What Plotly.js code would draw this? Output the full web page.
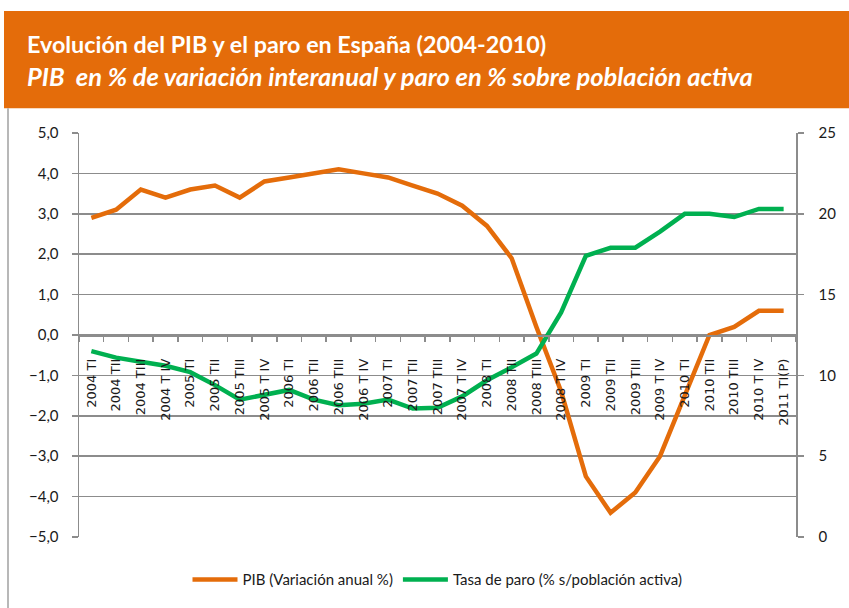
<!DOCTYPE html>
<html><head><meta charset="utf-8">
<script src="https://cdn.plot.ly/plotly-3.0.1.min.js"></script>
<style>html,body{margin:0;padding:0;background:#fff}#chart{width:849px;height:608px}</style>
</head><body><div id="chart"></div>
<script>
const categories = ["2004 TI","2004 TII","2004 TIII","2004 T IV","2005 TI","2005 TII","2005 TIII","2005 T IV","2006 TI","2006 TII","2006 TIII","2006 T IV","2007 TI","2007 TII","2007 TIII","2007 T IV","2008 TI","2008 TII","2008 TIII","2008 T IV","2009 TI","2009 TII","2009 TIII","2009 T IV","2010 TI","2010 TII","2010 TIII","2010 T IV","2011 TI(P)"];
const pib = [2.9,3.1,3.6,3.4,3.6,3.7,3.4,3.8,3.9,4.0,4.1,4.0,3.9,3.7,3.5,3.2,2.7,1.9,0.2,-1.4,-3.5,-4.4,-3.9,-3.0,-1.5,0.0,0.2,0.6,0.6];
const paro = [11.5,11.1,10.85,10.6,10.2,9.4,8.5,8.8,9.1,8.5,8.15,8.25,8.5,7.95,8.0,8.7,9.7,10.5,11.35,13.9,17.4,17.9,17.9,18.9,20.0,20.0,19.8,20.3,20.3];
const leftTicks = [-5,-4,-3,-2,-1,0,1,2,3,4,5];
const rightTicks = [0,5,10,15,20,25];
const seriesNames = ["PIB (Variación anual %)", "Tasa de paro (% s/población activa)"];
const titleText = "Evolución del PIB y el paro en España (2004-2010)";
const subtitleText = "PIB  en % de variación interanual y paro en % sobre población activa";

const W = 849, H = 608, L = 79, R = 796, T = 133, B = 540;
const px = p => (p - L) / (R - L);
const py = p => (B - p) / (B - T);
const GRID = "#8c8c8c", ORANGE = "#E46C0A", GREEN = "#00B050";

const traces = [
  {x: categories, y: pib, name: seriesNames[0], type: "scatter", mode: "lines",
   line: {color: ORANGE, width: 4.5}, yaxis: "y"},
  {x: categories, y: paro, name: seriesNames[1], type: "scatter", mode: "lines",
   line: {color: GREEN, width: 4.5}, yaxis: "y2"}
];

const layout = {
  width: W, height: H, separators: ",.",
  paper_bgcolor: "#fff", plot_bgcolor: "#fff",
  margin: {l: L, r: W - R, t: T, b: H - B, pad: 0},
  font: {family: "Lato, 'DejaVu Sans', sans-serif", color: "#1a1a1a"},
  showlegend: true,
  legend: {orientation: "h", x: 0.5, xanchor: "center", y: py(583), yanchor: "middle",
           font: {family: "Lato, sans-serif", size: 15, color: "#1a1a1a"}, itemwidth: 45,
           bgcolor: "rgba(0,0,0,0)"},
  xaxis: {type: "category", anchor: "free", position: 0.5, range: [-0.5, categories.length - 0.5],
          showline: true, linecolor: GRID, linewidth: 1.5, ticks: "outside", tickson: "boundaries",
          ticklen: 5, tickcolor: GRID, tickwidth: 1.5, tickangle: -90, showgrid: false,
          ticklabelstandoff: 17,
          tickfont: {family: "'DejaVu Sans', sans-serif", size: 13, color: "#1a1a1a"}},
  yaxis: {range: [-5, 5], tickvals: leftTicks, tickformat: ".1f", showgrid: true, gridcolor: GRID, gridwidth: 1.5,
          zeroline: false, showline: true, linecolor: GRID, linewidth: 1.5, ticks: "outside", ticklen: 6,
          tickcolor: GRID, tickwidth: 1.5, ticklabelstandoff: 10,
          tickfont: {family: "Lato, sans-serif", size: 15, color: "#1a1a1a"}},
  yaxis2: {range: [0, 25], tickvals: rightTicks, overlaying: "y", side: "right", showgrid: false,
           zeroline: false, showline: true, linecolor: GRID, linewidth: 1.5, ticks: "outside", ticklen: 6,
           tickcolor: GRID, tickwidth: 1.5, ticklabelstandoff: 12,
           tickfont: {family: "Lato, sans-serif", size: 15, color: "#1a1a1a"}},
  shapes: [
    {type: "rect", xref: "paper", yref: "paper", x0: px(4), x1: px(W + 5), y0: py(108), y1: py(10),
     fillcolor: ORANGE, line: {width: 0}, layer: "below"},
    {type: "line", xref: "paper", yref: "paper", x0: px(8), x1: px(8), y0: py(108), y1: py(H + 5),
     line: {color: "#a0a0a0", width: 1.5}}
  ],
  title: {text: "<b>" + titleText + "</b>", x: 27 / W, xanchor: "left", xref: "container",
          y: 1 - 45 / H, yanchor: "middle", yref: "container",
          font: {family: "Lato, sans-serif", size: 23.3, color: "#ffffff"}},
  annotations: [
    {text: "<b><i>" + subtitleText + "</i></b>", xref: "paper", yref: "paper", x: px(25), y: py(76),
     xanchor: "left", yanchor: "middle", showarrow: false,
     font: {family: "Lato, sans-serif", size: 25.5, color: "#ffffff"}}
  ]
};

Plotly.newPlot("chart", traces, layout, {displayModeBar: false, staticPlot: true});
</script>
</body></html>
